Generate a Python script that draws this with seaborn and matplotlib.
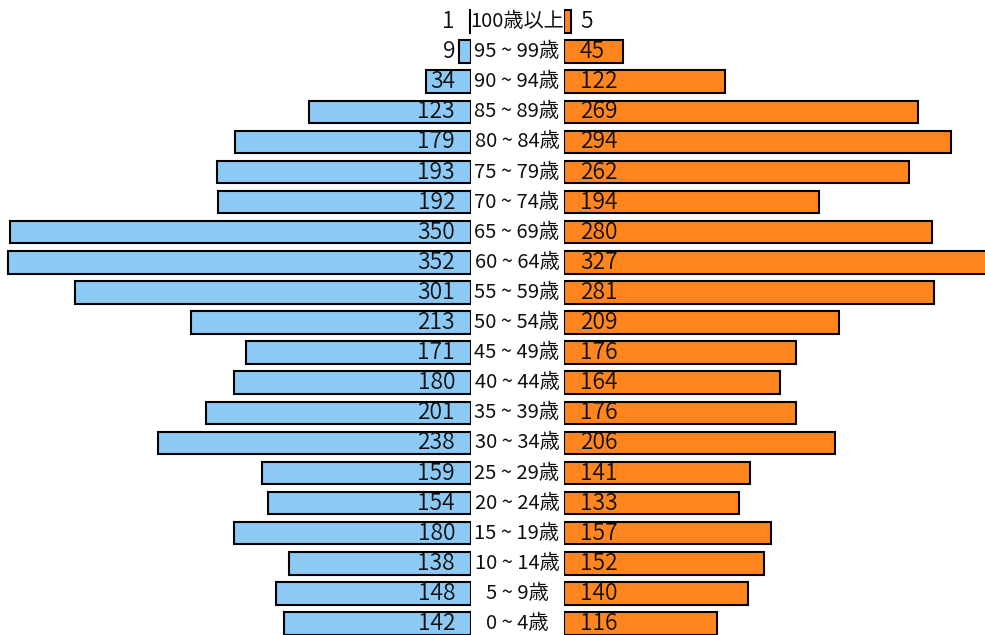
import numpy as np
import pandas as pd
import matplotlib
matplotlib.use('Agg')
import matplotlib.pyplot as plt
import seaborn as sns

# age groups, top to bottom
ages = ['100歳以上', '95 ~ 99歳', '90 ~ 94歳', '85 ~ 89歳', '80 ~ 84歳', '75 ~ 79歳',
        '70 ~ 74歳', '65 ~ 69歳', '60 ~ 64歳', '55 ~ 59歳', '50 ~ 54歳', '45 ~ 49歳',
        '40 ~ 44歳', '35 ~ 39歳', '30 ~ 34歳', '25 ~ 29歳', '20 ~ 24歳', '15 ~ 19歳',
        '10 ~ 14歳', '5 ~ 9歳', '0 ~ 4歳']
male = [1, 9, 34, 123, 179, 193, 192, 350, 352, 301, 213, 171, 180, 201, 238,
        159, 154, 180, 138, 148, 142]
female = [5, 45, 122, 269, 294, 262, 194, 280, 327, 281, 209, 176, 164, 176, 206,
          141, 133, 157, 152, 140, 116]

df = pd.DataFrame({'age': ages, 'male': male, 'female': female})

sns.set_style('white')
plt.rcParams['font.family'] = ['Noto Sans CJK JP', 'DejaVu Sans']

W, H = 985, 635
fig = plt.figure(figsize=(W / 100, H / 100), dpi=100)

ppu = 1.316          # pixels per person
left_edge = 471      # px, right edge of male bars
right_edge = 564     # px, left edge of female bars
row0, step = 21.5, 30.1  # px of first row centre, row spacing

axL = fig.add_axes([0, 0, left_edge / W, 1])
axR = fig.add_axes([right_edge / W, 0, (W - right_edge) / W, 1])

sns.barplot(data=df, y='age', x='male', orient='h', ax=axL, color='#8cc9f5',
            edgecolor='black', linewidth=1.5, width=0.75, saturation=1)
sns.barplot(data=df, y='age', x='female', orient='h', ax=axR, color='#ff851f',
            edgecolor='black', linewidth=1.5, width=0.75, saturation=1)

ylim = ((H - row0) / step, -row0 / step)
axL.set_xlim(left_edge / ppu, 0)
axR.set_xlim(0, (W - right_edge) / ppu)

off = 16 / ppu
for i, (m, f, a) in enumerate(zip(male, female, ages)):
    axL.text(off, i, str(m), ha='right', va='center', fontsize=16.5,
             fontweight=350, color='#111111')
    axR.text(off, i, str(f), ha='left', va='center', fontsize=16.5,
             fontweight=350, color='#111111')
    axR.text(-(right_edge - 517) / ppu, i, a, ha='center', va='center',
             fontsize=14.5, color='#111111', clip_on=False)

for ax in (axL, axR):
    ax.set_ylim(*ylim)
    ax.axis('off')

fig.savefig('out.png', dpi=100)
